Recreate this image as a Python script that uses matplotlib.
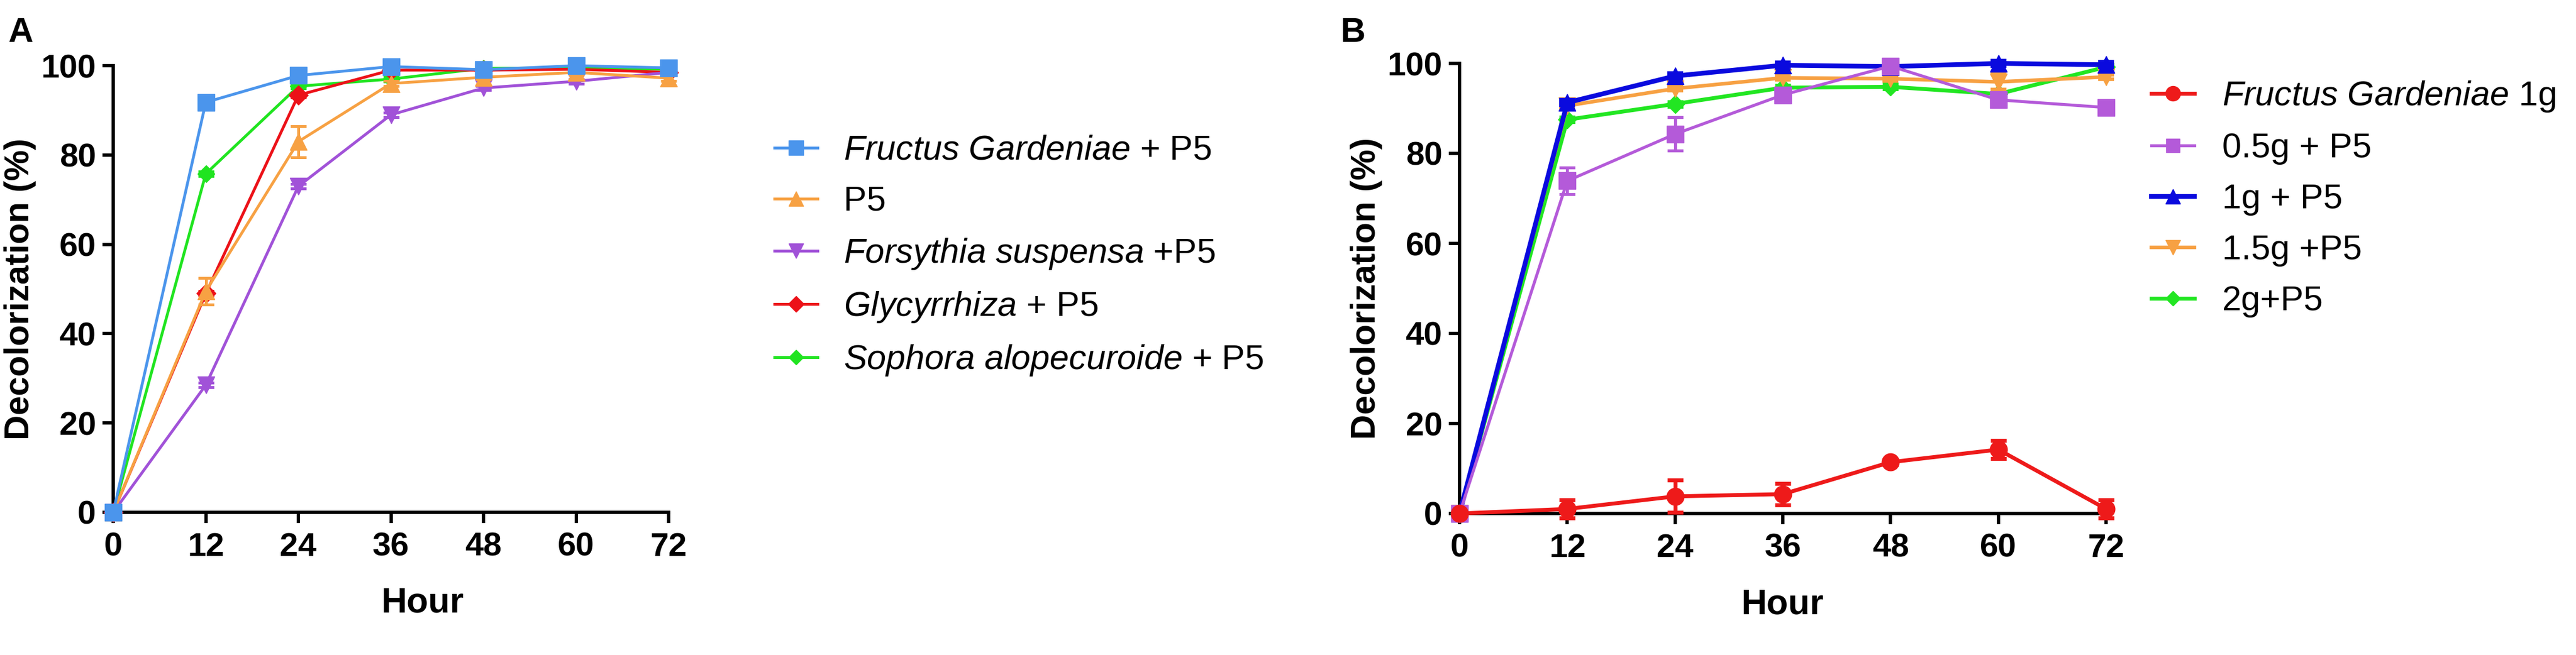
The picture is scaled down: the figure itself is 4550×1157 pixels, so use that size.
import matplotlib
matplotlib.use("Agg")
import matplotlib.pyplot as plt
from matplotlib.lines import Line2D

plt.rcParams.update({
    "font.family": ["Liberation Sans", "DejaVu Sans"],
    "mathtext.fontset": "custom",
    "mathtext.rm": "Liberation Sans",
    "mathtext.it": "Liberation Sans:italic",
    "axes.spines.top": False,
    "axes.spines.right": False,
})

HOURS = [0, 12, 24, 36, 48, 60, 72]
X_TICKS = [0, 12, 24, 36, 48, 60, 72]
Y_TICKS = [0, 20, 40, 60, 80, 100]

# panel A
A_LABELS = [
    r"$\it{Fructus\ Gardeniae}$ + P5",
    "P5",
    r"$\it{Forsythia\ suspensa}$ +P5",
    r"$\it{Glycyrrhiza}$ + P5",
    r"$\it{Sophora\ alopecuroide}$ + P5",
]
A_FG = [0, 91.8, 97.8, 99.8, 99.1, 100.0, 99.5]
A_P5 = [0, 49.5, 83.0, 96.0, 97.4, 98.5, 97.2]
A_FS = [0, 28.5, 73.0, 89.0, 95.0, 96.5, 98.5]
A_GL = [0, 49.0, 93.4, 99.0, 99.0, 99.2, 98.5]
A_SA = [0, 75.8, 95.4, 97.0, 99.4, 99.5, 99.2]
A_P5_ERR = [0, 3.0, 3.5, 0.6, 0.5, 0.5, 0.6]
A_SMALL_ERR = [0, 0.5, 0.5, 0.5, 0.5, 0.5, 0.5]

# panel B
B_LABELS = [
    r"$\it{Fructus\ Gardeniae}$ 1g",
    "0.5g + P5",
    "1g + P5",
    "1.5g +P5",
    "2g+P5",
]
B_FG1 = [0, 1.0, 3.8, 4.3, 11.4, 14.2, 1.0]
B_05 = [0, 73.9, 84.3, 93.0, 99.4, 91.9, 90.2]
B_1 = [0, 91.3, 97.2, 99.6, 99.3, 100.0, 99.7]
B_15 = [0, 90.6, 94.4, 96.8, 96.6, 95.9, 97.0]
B_2 = [0, 87.5, 91.0, 94.6, 94.8, 93.2, 99.2]
B_FG1_ERR = [0, 2.0, 3.6, 2.4, 0.6, 2.0, 2.0]
B_05_ERR = [0, 2.9, 3.7, 1.0, 0.8, 0.6, 0.6]
B_15_ERR = [0, 0.5, 0.5, 0.5, 0.5, 1.7, 0.5]
B_SMALL_ERR = [0, 0.5, 0.5, 0.5, 0.5, 0.5, 0.5]

A_COLORS = ["#4B95EC", "#F7A143", "#A152D8", "#EC1118", "#20E420"]
A_MARKERS = ["s", "^", "v", "D", "D"]
A_MS = [22, 22, 22, 17, 15]
A_LW = [3.6, 3.6, 3.6, 3.6, 3.6]
B_COLORS = ["#EE1A1A", "#B45AD9", "#0A0ADE", "#F7A143", "#22E622"]
B_MARKERS = ["o", "s", "^", "v", "D"]
B_MS = [22, 21, 22, 22, 16]
B_LW = [5.0, 3.8, 6.0, 4.6, 5.0]

W, H = 4550, 1157
fig = plt.figure(figsize=(W / 100, H / 100), dpi=100)


def px_axes(x0, x1, y_top, y_bot):
    return fig.add_axes([x0 / W, 1 - y_bot / H, (x1 - x0) / W, (y_bot - y_top) / H])


def style(ax, xlabel_x):
    ax.set_xlim(0, 72)
    ax.set_ylim(0, 100)
    ax.set_xticks(X_TICKS)
    ax.set_yticks(Y_TICKS)
    for s in ("left", "bottom"):
        ax.spines[s].set_linewidth(4.2)
    ax.tick_params(axis="both", length=14, width=4.2, labelsize=42)
    ax.tick_params(axis="x", pad=11)
    ax.tick_params(axis="y", pad=8)
    for lab in ax.get_xticklabels() + ax.get_yticklabels():
        lab.set_fontweight("bold")
    ax.set_xlabel("Hour", fontsize=45, fontweight="bold")
    ax.xaxis.set_label_coords(xlabel_x, -0.165, transform=ax.transAxes)
    ax.set_ylabel("Decolorization (%)", fontsize=44, fontweight="bold", labelpad=6)


def draw(ax, series, errs, colors, markers, sizes, widths, labels):
    handles = []
    n = len(series)
    for i, (vals, err) in enumerate(zip(series, errs)):
        lw = widths[i]
        ax.errorbar(HOURS, vals, yerr=err, color=colors[i], marker=markers[i],
                    ms=sizes[i], lw=lw, elinewidth=lw, capsize=10, capthick=lw,
                    mec=colors[i], clip_on=False, zorder=10 + n - i)
        handles.append(Line2D([], [], color=colors[i], marker=markers[i],
                              ms=sizes[i] * 0.85, lw=lw, label=labels[i]))
    return handles


axA = px_axes(200, 1181, 116, 905)
hA = draw(axA, [A_FG, A_P5, A_FS, A_GL, A_SA],
          [A_SMALL_ERR, A_P5_ERR, A_SMALL_ERR, A_SMALL_ERR, A_SMALL_ERR],
          A_COLORS, A_MARKERS, A_MS, A_LW, A_LABELS)
style(axA, 0.5576)

axB = px_axes(2578, 3720, 112, 907)
hB = draw(axB, [B_FG1, B_05, B_1, B_15, B_2],
          [B_FG1_ERR, B_05_ERR, B_SMALL_ERR, B_15_ERR, B_SMALL_ERR],
          B_COLORS, B_MARKERS, B_MS, B_LW, B_LABELS)
style(axB, 0.5)

legA = fig.legend(handles=hA, loc="upper left", bbox_to_anchor=(1368 / W, 1 - 238 / H),
                  frameon=False, fontsize=44, handlelength=1.25, handletextpad=0.75,
                  labelspacing=0.54, borderpad=0, borderaxespad=0)
legB = fig.legend(handles=hB, loc="upper left", bbox_to_anchor=(3800 / W, 1 - 140 / H),
                  frameon=False, fontsize=44, handlelength=1.25, handletextpad=0.8,
                  labelspacing=0.54, borderpad=0, borderaxespad=0)

fig.text(14 / W, 1 - 74 / H, "A", fontsize=44, fontweight="bold", va="baseline")
fig.text(2368 / W, 1 - 74 / H, "B", fontsize=44, fontweight="bold", va="baseline")

fig.savefig("out.png", dpi=100)
